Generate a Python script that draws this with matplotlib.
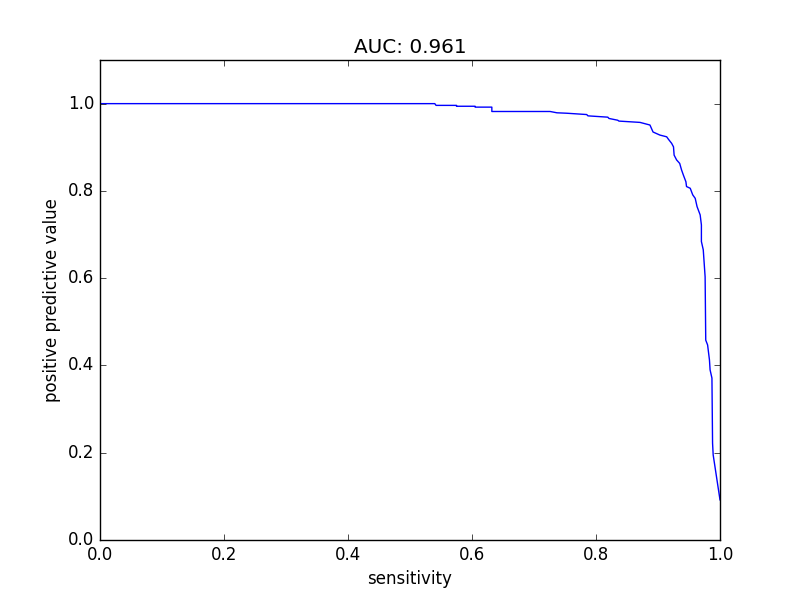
import matplotlib
matplotlib.use("Agg")
import matplotlib.pyplot as plt

plt.style.use("classic")

# precision-recall curve
sensitivity = [0.0, 0.540, 0.542, 0.575, 0.575, 0.605, 0.605, 0.632, 0.632, 0.726,
               0.737, 0.753, 0.785, 0.787, 0.819, 0.821, 0.835, 0.837, 0.871, 0.887,
               0.892, 0.903, 0.914, 0.917, 0.922, 0.925, 0.926, 0.930, 0.935, 0.938,
               0.941, 0.945, 0.946, 0.952, 0.956, 0.960, 0.963, 0.968, 0.970, 0.970,
               0.973, 0.976, 0.977, 0.980, 0.983, 0.984, 0.987, 0.988, 0.989, 1.0]
ppv = [1.0, 1.0, 0.996, 0.996, 0.994, 0.994, 0.992, 0.992, 0.982, 0.982,
       0.979, 0.978, 0.975, 0.972, 0.969, 0.966, 0.962, 0.960, 0.957, 0.951,
       0.935, 0.928, 0.924, 0.918, 0.909, 0.901, 0.882, 0.871, 0.863, 0.848,
       0.836, 0.821, 0.810, 0.806, 0.791, 0.783, 0.764, 0.745, 0.722, 0.684,
       0.665, 0.603, 0.458, 0.447, 0.4125, 0.390, 0.371, 0.222, 0.195, 0.092]
auc = 0.961

fig = plt.figure(figsize=(8, 6), dpi=100)
fig.patch.set_facecolor("white")
ax = fig.add_subplot(111)
ax.plot(sensitivity, ppv, "b-")
ax.set_xlim(0, 1)
ax.set_ylim(0, 1.1)
ax.set_yticks([0.0, 0.2, 0.4, 0.6, 0.8, 1.0])
ax.set_xlabel("sensitivity")
ax.set_ylabel("positive predictive value")
ax.set_title("AUC: %.3f" % auc)
fig.savefig("out.png", dpi=100, facecolor="white")
